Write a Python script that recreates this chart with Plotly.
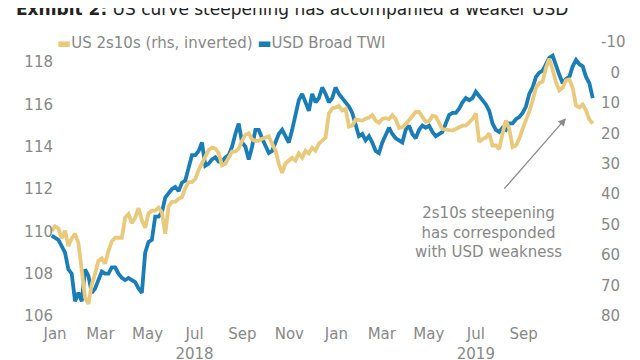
import pandas as pd
import plotly.graph_objects as go

# ---- data ----
dates = pd.date_range("2017-12-27 16:00", periods=163, freq="104h")

usd_twi = [
    109.8, 109.7, 109.6, 109.3, 109.0, 108.2, 108.0, 106.7, 107.1, 106.7,
    108.2, 107.9, 107.1, 107.3, 107.7, 108.1, 108.0, 108.0, 108.3, 108.3,
    108.0, 107.8, 107.7, 107.8, 107.7, 107.6, 107.3, 107.1, 109.0, 109.5,
    109.6, 110.7, 110.7, 110.9, 111.6, 111.8, 112.0, 112.1, 111.9, 112.3,
    112.4, 113.0, 113.6, 113.6, 113.8, 114.2, 113.1, 113.2, 113.4, 113.5,
    113.3, 113.3, 113.5, 113.6, 114.0, 114.6, 115.1, 114.2, 114.0, 113.4,
    114.0, 114.8, 114.8, 114.4, 114.0, 113.7, 113.8, 114.2, 114.6, 114.8,
    114.5, 114.2, 114.8, 115.6, 116.2, 116.5, 116.1, 115.7, 116.5, 116.1,
    116.3, 116.8, 116.5, 116.1, 116.3, 116.8, 116.5, 116.3, 116.1, 115.9,
    115.6, 115.1, 114.5, 114.6, 114.3, 114.5, 114.2, 113.8, 113.7, 114.2,
    114.6, 114.9, 114.6, 114.4, 114.3, 114.2, 114.8, 115.0, 114.6, 114.4,
    114.8, 115.0, 114.9, 115.0, 114.7, 114.5, 114.6, 114.7, 115.1, 115.5,
    115.6, 115.6, 115.8, 116.1, 116.3, 116.2, 116.3, 116.6, 116.4, 116.2,
    116.0, 115.7, 115.1, 114.8, 114.7, 114.9, 114.8, 115.1, 115.1, 115.3,
    115.4, 115.6, 115.9, 116.5, 116.8, 117.3, 117.5, 117.6, 117.9, 118.2,
    118.3, 117.8, 117.4, 117.0, 117.2, 117.3, 117.8, 118.1, 117.9, 117.8,
    117.3, 117.0, 116.3,
]

us_2s10s = [
    52.0, 50.5, 51.2, 54.5, 52.0, 57.0, 54.5, 53.0, 56.0, 66.5,
    74.0, 76.0, 69.6, 66.1, 61.8, 61.0, 62.8, 58.6, 55.5, 54.3,
    54.3, 54.3, 47.7, 46.5, 49.5, 47.7, 44.6, 48.5, 51.0, 46.3,
    45.4, 45.4, 44.4, 46.0, 53.0, 44.0, 42.5, 42.5, 41.5, 41.0,
    38.0, 36.0, 36.0, 35.0, 32.0, 30.0, 28.0, 25.5, 24.7, 25.0,
    26.5, 30.5, 30.0, 27.8, 26.0, 26.0, 25.0, 22.5, 20.5, 20.0,
    22.0, 22.5, 22.4, 21.8, 21.5, 21.0, 23.5, 25.5, 30.0, 33.0,
    29.9, 28.9, 28.0, 28.9, 26.6, 28.0, 25.7, 26.6, 24.7, 25.7,
    23.4, 22.4, 21.4, 13.5, 11.8, 11.5, 11.0, 12.5, 12.0, 17.8,
    17.5, 15.5, 15.8, 15.8, 15.2, 14.8, 14.0, 15.8, 16.5, 15.3,
    15.0, 15.3, 14.0, 15.3, 18.2, 18.0, 17.0, 15.5, 14.2, 13.0,
    13.0, 14.5, 16.2, 16.0, 14.2, 14.5, 16.5, 18.6, 18.8, 18.8,
    19.1, 18.6, 18.0, 17.5, 17.5, 16.5, 15.3, 13.5, 22.8, 21.9,
    21.4, 20.0, 24.0, 24.0, 25.2, 20.0, 15.8, 18.5, 24.5, 24.0,
    21.8, 18.5, 15.8, 12.8, 9.2, 5.0, 3.5, 3.0, -1.5, -4.5,
    -1.0, 3.3, 5.9, 5.0, 2.6, 2.3, 5.0, 10.9, 11.5, 10.5,
    12.5, 15.5, 16.8,
]

month_ticks = ["2018-01-01", "2018-03-01", "2018-05-01", "2018-07-01", "2018-09-01",
               "2018-11-01", "2019-01-01", "2019-03-01", "2019-05-01", "2019-07-01",
               "2019-09-01"]
month_labels = ["Jan", "Mar", "May", "Jul<br>2018", "Sep", "Nov",
                "Jan", "Mar", "May", "Jul<br>2019", "Sep"]
left_ticks = [106, 108, 110, 112, 114, 116, 118]
right_ticks = [-10, 0, 10, 20, 30, 40, 50, 60, 70, 80]
right_labels = ["-10", "\u20070", "10", "20", "30", "40", "50", "60", "70", "80"]

BLUE = "#1A7DB6"
GOLD = "#E9CA7D"
GREY = "#888888"
FONT = "DejaVu Sans"

fig = go.Figure()
fig.add_trace(go.Scatter(x=dates, y=usd_twi, mode="lines", name="USD Broad TWI",
                         line=dict(color=BLUE, width=3.8), yaxis="y"))
fig.add_trace(go.Scatter(x=dates, y=us_2s10s, mode="lines", name="US 2s10s (rhs, inverted)",
                         line=dict(color=GOLD, width=3.8), yaxis="y2"))

# the page body adds an 8px offset, so the figure is 632x352
fig.update_layout(
    template="none",
    width=632, height=352,
    margin=dict(l=38, r=42, t=34, b=44, autoexpand=False),
    paper_bgcolor="white", plot_bgcolor="white",
    showlegend=False,
    font=dict(family=FONT, size=15, color=GREY),
    xaxis=dict(type="date", range=["2017-12-20 07:00", "2019-12-06 12:00"],
               tickvals=month_ticks, ticktext=month_labels, automargin=False,
               showgrid=False, zeroline=False, showline=False, ticks="",
               ticklabelstandoff=7,
               tickfont=dict(size=15, color=GREY)),
    yaxis=dict(range=[106, 118.95], tickvals=left_ticks, automargin=False,
               showgrid=False, zeroline=False, showline=False, ticks="",
               ticklabelstandoff=-8,
               tickfont=dict(size=15, color=GREY)),
    yaxis2=dict(range=[80, -10], overlaying="y", side="right", automargin=False,
                tickvals=right_ticks, ticktext=right_labels,
                showgrid=False, zeroline=False, showline=False, ticks="",
                ticklabelstandoff=2,
                tickfont=dict(size=15, color=GREY)),
)

# title (partly cut off at the top, as in the reference)
fig.add_annotation(
    xref="paper", yref="paper", x=-0.058, y=1.12, xanchor="left", yanchor="middle",
    showarrow=False,
    text="<b>Exhibit 2:</b> US curve steepening has accompanied a weaker USD",
    font=dict(family=FONT, size=17, color="#222222"),
)

# legend drawn as text
fig.add_annotation(
    xref="paper", yref="paper", x=0.016, y=0.996, xanchor="left", yanchor="middle",
    showarrow=False,
    text=(f'<span style="color:{GOLD}">▬</span>US 2s10s (rhs, inverted) '
          f'<span style="color:{BLUE}">▬</span>USD Broad TWI'),
    font=dict(family=FONT, size=15, color=GREY),
)

# callout text + arrow
fig.add_annotation(
    xref="x", yref="y", x="2019-07-17", y=109.97, showarrow=False,
    text="2s10s steepening<br>has corresponded<br>with USD weakness",
    font=dict(family=FONT, size=15, color=GREY), align="center",
)
fig.add_annotation(
    xref="x", yref="y", x="2019-10-26", y=115.35, ax=-63, ay=72,
    text="", showarrow=True, arrowhead=2, arrowsize=1.2, arrowwidth=1.3,
    arrowcolor="#8a8a8a",
)

fig.write_html("out.html")
